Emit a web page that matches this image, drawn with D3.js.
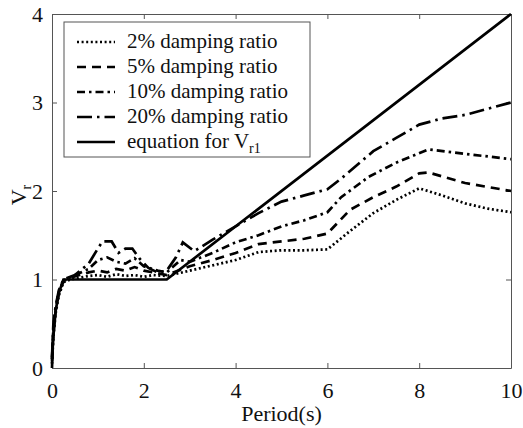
<!DOCTYPE html>
<html>
<head>
<meta charset="utf-8">
<script src="https://cdn.jsdelivr.net/npm/d3@7"></script>
</head>
<body style="margin:0">
<script>
// period (s) / Vr values
var xTicks = [0, 2, 4, 6, 8, 10];
var yTicks = [0, 1, 2, 3, 4];

var damp2 = [[0,0.05],[0.03,0.35],[0.08,0.62],[0.15,0.82],[0.25,0.97],[0.4,1.0],[0.6,1.02],[0.8,1.04],[1.0,1.05],[1.2,1.03],[1.4,1.06],[1.6,1.04],[1.8,1.05],[2.0,1.03],[2.2,1.05],[2.5,1.04],[3.0,1.1],[3.5,1.16],[4.0,1.22],[4.5,1.31],[5.0,1.33],[5.5,1.33],[6.0,1.34],[6.5,1.55],[7.0,1.75],[7.5,1.9],[8.0,2.03],[8.5,1.95],[9.0,1.86],[9.5,1.8],[10,1.76]];
var damp5 = [[0,0.08],[0.03,0.4],[0.08,0.65],[0.15,0.85],[0.25,0.98],[0.4,1.02],[0.6,1.05],[0.8,1.08],[1.0,1.1],[1.2,1.08],[1.4,1.12],[1.6,1.1],[1.8,1.14],[2.0,1.1],[2.2,1.08],[2.5,1.05],[3.0,1.15],[3.5,1.22],[4.0,1.3],[4.5,1.4],[5.0,1.43],[5.5,1.46],[6.0,1.52],[6.5,1.79],[7.0,1.93],[7.5,2.05],[8.0,2.2],[8.2,2.21],[9.0,2.09],[10,2.0]];
var damp10 = [[0,0.1],[0.03,0.45],[0.08,0.68],[0.15,0.86],[0.25,0.99],[0.5,1.05],[0.8,1.12],[1.0,1.22],[1.2,1.25],[1.4,1.2],[1.6,1.18],[1.8,1.24],[2.0,1.15],[2.3,1.1],[2.5,1.08],[2.8,1.22],[3.0,1.2],[3.5,1.3],[4.0,1.42],[4.5,1.5],[5.0,1.6],[5.5,1.67],[6.0,1.76],[6.3,1.93],[6.9,2.16],[7.5,2.32],[8.2,2.47],[9.0,2.42],[10,2.36]];
var damp20 = [[0,0.12],[0.03,0.5],[0.08,0.7],[0.15,0.88],[0.25,1.0],[0.5,1.05],[0.8,1.18],[1.0,1.35],[1.1,1.43],[1.3,1.43],[1.45,1.3],[1.6,1.35],[1.75,1.35],[1.9,1.24],[2.1,1.13],[2.3,1.08],[2.5,1.1],[2.7,1.25],[2.85,1.42],[3.1,1.32],[3.5,1.45],[4.0,1.6],[4.5,1.75],[5.0,1.88],[5.5,1.95],[6.0,2.02],[6.3,2.14],[7.0,2.45],[7.5,2.6],[8.0,2.75],[8.5,2.82],[9.0,2.86],[10,3.0]];
var eqVr1 = [[0,0],[0.02,0.3],[0.08,0.65],[0.15,0.85],[0.25,1.0],[2.5,1.0],[10,4.0]];

var seriesNames = ["2% damping ratio", "5% damping ratio", "10% damping ratio", "20% damping ratio", "equation for V"];
var seriesData = [damp2, damp5, damp10, damp20, eqVr1];
var seriesDash = ["2,2.6", "9,6", "8,4,2.5,4", "15,5,2.5,5", null];

var width = 523, height = 428;
var margin = {top: 14, right: 12, bottom: 60, left: 52};
var w = width - margin.left - margin.right;
var h = height - margin.top - margin.bottom;

var svg = d3.select("body").append("svg")
    .attr("width", width)
    .attr("height", height)
    .attr("font-family", "Liberation Serif");

var g = svg.append("g")
    .attr("transform", "translate(" + margin.left + "," + margin.top + ")");

var x = d3.scaleLinear().domain([0, 10]).range([0, w]);
var y = d3.scaleLinear().domain([0, 4]).range([h, 0]);

// axes, ticks pointing in (matlab style)
var bottomAxis = d3.axisBottom(x).tickValues(xTicks).tickFormat(d3.format("d"))
    .tickSizeInner(-5).tickSizeOuter(0).tickPadding(14);
var leftAxis = d3.axisLeft(y).tickValues(yTicks).tickFormat(d3.format("d"))
    .tickSizeInner(-5).tickSizeOuter(0).tickPadding(9);
var topAxis = d3.axisTop(x).tickValues(xTicks).tickSizeInner(-5).tickSizeOuter(0).tickFormat("");
var rightAxis = d3.axisRight(y).tickValues(yTicks).tickSizeInner(-5).tickSizeOuter(0).tickFormat("");

g.append("g").attr("class", "axis").attr("transform", "translate(0," + h + ")").call(bottomAxis);
g.append("g").attr("class", "axis").call(leftAxis);
g.append("g").attr("class", "axis").call(topAxis);
g.append("g").attr("class", "axis").attr("transform", "translate(" + w + ",0)").call(rightAxis);

g.selectAll(".axis").attr("font-family", "Liberation Serif").attr("font-size", 22);
g.selectAll(".axis path, .axis line").attr("stroke", "#555").attr("stroke-width", 1);
g.selectAll(".axis text").attr("fill", "#111");

var line = d3.line()
    .x(function(d) { return x(d[0]); })
    .y(function(d) { return y(d[1]); });

seriesData.forEach(function(data, i) {
    g.append("path")
        .datum(data)
        .attr("fill", "none")
        .attr("stroke", "#000")
        .attr("stroke-width", 2.7)
        .attr("stroke-dasharray", seriesDash[i])
        .attr("d", line);
});

// legend
var legend = g.append("g").attr("transform", "translate(12,8)");
legend.append("rect")
    .attr("width", 246)
    .attr("height", 135)
    .attr("fill", "#fff")
    .attr("stroke", "#555")
    .attr("stroke-width", 1);

seriesNames.forEach(function(name, i) {
    var base = 26 + i * 25;
    legend.append("line")
        .attr("x1", 13).attr("x2", 51)
        .attr("y1", base - 6).attr("y2", base - 6)
        .attr("stroke", "#000")
        .attr("stroke-width", 2.7)
        .attr("stroke-dasharray", seriesDash[i]);
    var t = legend.append("text")
        .attr("x", 63)
        .attr("y", base)
        .attr("font-size", 21)
        .attr("fill", "#111")
        .text(name);
    if (i == 4) {
        t.append("tspan").attr("font-size", 14).attr("dy", 5).text("r1");
    }
});

g.append("text")
    .attr("x", w / 2)
    .attr("y", h + 53)
    .attr("font-size", 22)
    .attr("fill", "#111")
    .attr("text-anchor", "middle")
    .text("Period(s)");

var yl = g.append("text")
    .attr("transform", "translate(-26," + (h / 2 + 4) + ") rotate(-90)")
    .attr("font-size", 22)
    .attr("fill", "#111")
    .attr("text-anchor", "middle");
yl.append("tspan").text("V");
yl.append("tspan").attr("font-size", 14).attr("dy", 5).text("r");
</script>
</body>
</html>
